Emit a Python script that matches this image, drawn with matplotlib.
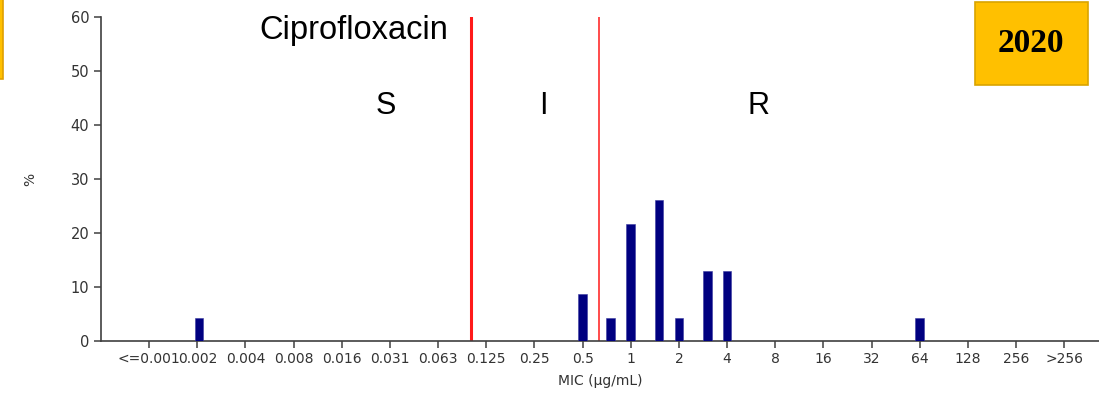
import numpy as np
import matplotlib
matplotlib.use("Agg")
import matplotlib.pyplot as plt
from matplotlib.patches import Rectangle

# MIC ladder (category labels)
mic_labels = ["<=0.001", "0.002", "0.004", "0.008", "0.016", "0.031", "0.063",
              "0.125", "0.25", "0.5", "1", "2", "4", "8", "16", "32", "64",
              "128", "256", ">256"]

# bars: MIC value and % of isolates (n = 23)
bar_mic = [0.002, 0.5, 0.75, 1, 1.5, 2, 3, 4, 64]
bar_pct = [4.35, 8.7, 4.35, 21.7, 26.1, 4.35, 13.0, 13.0, 4.35]

# breakpoints drawn as red lines (S|I and I|R)
bp_si = 0.1
bp_ir = 0.63


def pos(v):
    # log2 position, 0.5 sits on category index 9
    return np.log2(v / 0.5) + 9


fig = plt.figure(figsize=(10.99, 3.97), dpi=100)
ax = fig.add_axes([0.0919, 0.141, 0.9081, 0.8154])

ax.bar([pos(v) for v in bar_mic], bar_pct, width=0.18, color="#000080",
       edgecolor="#3a3aa0", linewidth=0.4, zorder=3)

ax.axvline(pos(bp_si), color="#ff1a1a", lw=2.2, zorder=2)
ax.axvline(pos(bp_ir), color="#ff1a1a", lw=1.1, zorder=2)

ax.set_xlim(-1, 19.72)
ax.set_ylim(0, 60)
ax.set_xticks(range(len(mic_labels)))
ax.set_xticklabels(mic_labels)
ax.set_yticks(range(0, 61, 10))

for s in ["top", "right"]:
    ax.spines[s].set_visible(False)
for s in ["left", "bottom"]:
    ax.spines[s].set_color("#404040")
    ax.spines[s].set_linewidth(1.2)
ax.tick_params(axis="both", colors="#404040", labelcolor="#333333",
               labelsize=10.5, length=5, width=1.1)
ax.tick_params(axis="x", labelsize=10, pad=3)

ax.set_xlabel("MIC (µg/mL)", fontsize=10, color="#333333", labelpad=6)
ax.set_ylabel("%", fontsize=10, color="#333333", labelpad=24)

txt = dict(color="black", family="Liberation Sans")
fig.text(354 / 1099, 1 - 30 / 397, "Ciprofloxacin", ha="center", va="center",
         fontsize=23.5, **txt)
fig.text(386 / 1099, 1 - 106 / 397, "S", ha="center", va="center", fontsize=22, **txt)
fig.text(543 / 1099, 1 - 106 / 397, "I", ha="center", va="center", fontsize=22, **txt)
fig.text(758 / 1099, 1 - 106 / 397, "R", ha="center", va="center", fontsize=22, **txt)

# year tag
fig.patches.append(Rectangle((975 / 1099, 1 - 85 / 397), 113 / 1099, 83 / 397,
                             transform=fig.transFigure, facecolor="#ffc000",
                             edgecolor="#d9a400", lw=1.2))
fig.text(1031 / 1099, 1 - 44 / 397, "2020", ha="center", va="center",
         fontsize=24, fontweight="bold", family="Liberation Serif")
fig.patches.append(Rectangle((-0.01, 1 - 79 / 397), 0.013, 80 / 397,
                             transform=fig.transFigure, facecolor="#ffc000",
                             edgecolor="#e0a000", lw=1.2))

fig.savefig("out.png", dpi=100)
